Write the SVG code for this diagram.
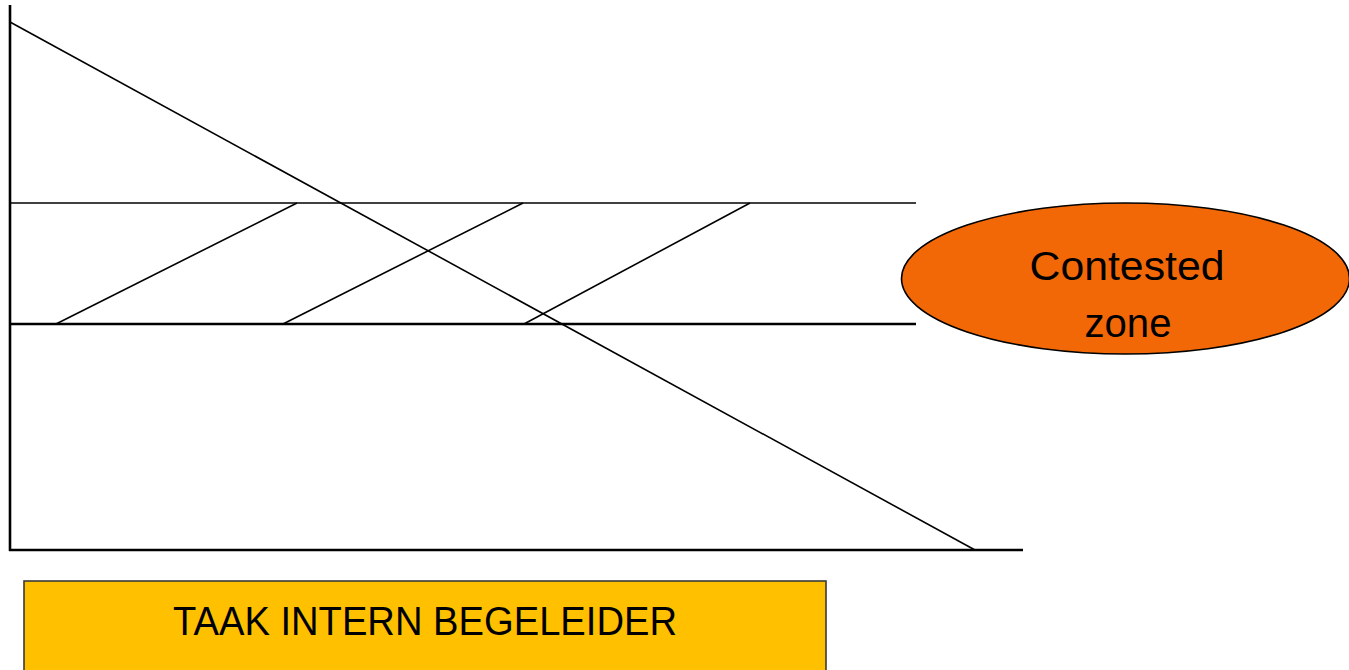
<svg xmlns="http://www.w3.org/2000/svg" width="1349" height="670" viewBox="0 0 1349 670">
<style>
.ln{stroke:#000;fill:none;stroke-width:1.6}
.ax{stroke:#000;fill:none;stroke-width:2.6}
.t{font-family:"Liberation Sans",Arial,sans-serif;font-size:41px;fill:#000;text-anchor:middle}
</style>
<rect width="1349" height="670" fill="#fff"/>
<g id="connectors">
<line class="ax" x1="10" y1="5" x2="10" y2="551"/>
<line class="ax" x1="9" y1="550" x2="1023" y2="550"/>
<line class="ln" x1="10" y1="22" x2="975" y2="550"/>
<line class="ln" x1="10" y1="203" x2="916" y2="203"/>
<line class="ax" x1="10" y1="324" x2="916" y2="324"/>
<line class="ln" x1="56" y1="324" x2="297" y2="203"/>
<line class="ln" x1="283" y1="324" x2="523" y2="203"/>
<line class="ln" x1="524" y1="324" x2="750" y2="203"/>
</g>
<g id="contested-zone">
<ellipse cx="1125.5" cy="278.5" rx="224" ry="75.5" fill="#F26806" stroke="#000" stroke-width="1.6"/>
<text class="t" x="1127" y="280" textLength="195" lengthAdjust="spacingAndGlyphs">Contested</text>
<text class="t" x="1128" y="337" textLength="87" lengthAdjust="spacingAndGlyphs">zone</text>
</g>
<g id="taak">
<rect x="24" y="581" width="802" height="100" fill="#FFC000" stroke="#3a3a3a" stroke-width="1.6"/>
<text class="t" x="425" y="635" textLength="504" lengthAdjust="spacingAndGlyphs">TAAK INTERN BEGELEIDER</text>
</g>
</svg>
